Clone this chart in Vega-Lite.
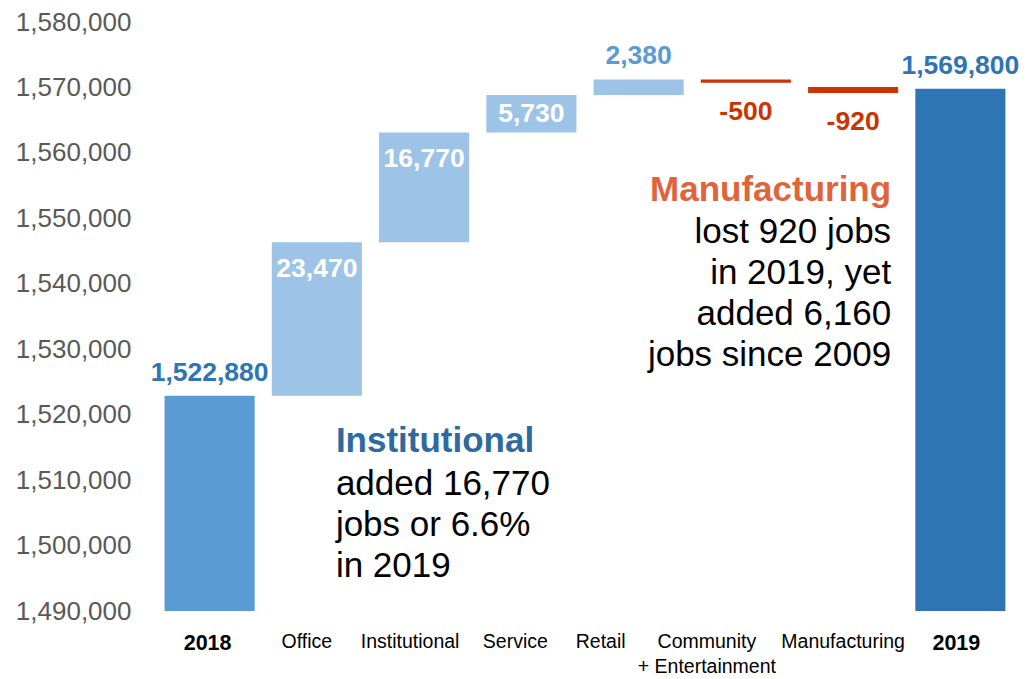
{
  "$schema": "https://vega.github.io/schema/vega-lite/v6.json",
  "autosize": "none",
  "padding": {"left": 156, "top": 22, "right": 22, "bottom": 68},
  "width": 858,
  "height": 589,
  "background": "white",
  "config": {"view": {"stroke": null}, "font": "Liberation Sans", "text": {"font": "Liberation Sans"}},
  "datasets": {
    "bars": [
      {"cat": "2018", "kind": "total2018", "start": 1490000, "end": 1522880, "label": "1,522,880"},
      {"cat": "Office", "kind": "increase", "start": 1522880, "end": 1546350, "label": "23,470"},
      {"cat": "Institutional", "kind": "increase", "start": 1546350, "end": 1563120, "label": "16,770"},
      {"cat": "Service", "kind": "increase", "start": 1563120, "end": 1568850, "label": "5,730"},
      {"cat": "Retail", "kind": "increase", "start": 1568850, "end": 1571230, "label": "2,380"},
      {"cat": "Community + Entertainment", "kind": "decrease", "start": 1571230, "end": 1570730, "label": "-500"},
      {"cat": "Manufacturing", "kind": "decrease", "start": 1570070, "end": 1569150, "label": "-920"},
      {"cat": "2019", "kind": "total2019", "start": 1490000, "end": 1569800, "label": "1,569,800"}
    ],
    "notes": [
      {"series": "Institutional", "part": "title", "cat": "Office", "value": 1514340, "text": "Institutional"},
      {"series": "Institutional", "part": "body", "cat": "Office", "value": 1507725, "text": "added 16,770\njobs or 6.6%\nin 2019"},
      {"series": "Manufacturing", "part": "title", "cat": "Manufacturing", "value": 1552695, "text": "Manufacturing"},
      {"series": "Manufacturing", "part": "body", "cat": "Manufacturing", "value": 1546230, "text": "lost 920 jobs\nin 2019, yet\nadded 6,160\njobs since 2009"}
    ]
  },
  "encoding": {
    "x": {
      "field": "cat", "type": "nominal", "sort": ["2018", "Office", "Institutional", "Service", "Retail", "Community + Entertainment", "Manufacturing", "2019"],
      "scale": {"domain": ["2018", "Office", "Institutional", "Service", "Retail", "Community + Entertainment", "Manufacturing", "2019"], "paddingInner": 0.16, "paddingOuter": 0.08},
      "axis": {
        "title": null, "domain": false, "ticks": false, "tickSize": 0, "labelAngle": 0,
        "labelPadding": 21, "labelBaseline": "top", "labelColor": "black", "labelFont": "Liberation Sans",
        "labelLineHeight": 25,
        "labelFontSize": {"condition": {"test": "datum.value == '2018' || datum.value == '2019'", "value": 21.5}, "value": 19.5},
        "labelFontWeight": {"condition": {"test": "datum.value == '2018' || datum.value == '2019'", "value": "bold"}, "value": "normal"},
        "labelOffset": {"condition": [
          {"test": "datum.value == '2018'", "value": -2},
          {"test": "datum.value == 'Office'", "value": -10},
          {"test": "datum.value == 'Institutional'", "value": -14},
          {"test": "datum.value == 'Service'", "value": -16},
          {"test": "datum.value == 'Retail'", "value": -38},
          {"test": "datum.value == 'Community + Entertainment'", "value": -39},
          {"test": "datum.value == 'Manufacturing'", "value": -10}
        ], "value": -4},
        "labelExpr": "datum.value == 'Community + Entertainment' ? ['Community', '+ Entertainment'] : datum.value"
      }
    }
  },
  "layer": [
    {
      "data": {"name": "bars"},
      "mark": {"type": "bar"},
      "encoding": {
        "y": {"field": "start", "type": "quantitative",
          "scale": {"domain": [1490000, 1580000], "nice": false, "zero": false},
          "axis": {"title": null, "values": [1490000, 1500000, 1510000, 1520000, 1530000, 1540000, 1550000, 1560000, 1570000, 1580000], "format": ",.0f", "grid": false, "domain": false, "ticks": false, "tickSize": 0, "labelPadding": 25, "labelFontSize": 26, "labelColor": "#595959", "labelFont": "Liberation Sans"}},
        "y2": {"field": "end"},
        "color": {"field": "kind", "type": "nominal", "legend": null,
          "scale": {"domain": ["total2018", "increase", "decrease", "total2019"], "range": ["#5B9BD5", "#9DC3E6", "#CC3300", "#2E75B6"]}}
      }
    },
    {
      "data": {"name": "bars"},
      "transform": [{"filter": "datum.kind == 'total2018' || datum.kind == 'total2019' || datum.cat == 'Retail'"}],
      "mark": {"type": "text", "baseline": "alphabetic", "align": "center", "dy": -15, "fontSize": 26.5, "fontWeight": "bold"},
      "encoding": {
        "y": {"field": "end", "type": "quantitative"},
        "text": {"field": "label"},
        "color": {"condition": {"test": "datum.cat == 'Retail'", "value": "#5B9BD5"}, "value": "#2E75B6"}
      }
    },
    {
      "data": {"name": "bars"},
      "transform": [{"filter": "datum.cat == 'Office' || datum.cat == 'Institutional'"}],
      "mark": {"type": "text", "baseline": "alphabetic", "align": "center", "dy": 34.5, "fontSize": 26.5, "fontWeight": "bold", "color": "white"},
      "encoding": {
        "y": {"field": "end", "type": "quantitative"},
        "text": {"field": "label"}
      }
    },
    {
      "data": {"name": "bars"},
      "transform": [{"filter": "datum.cat == 'Service'"}],
      "mark": {"type": "text", "baseline": "alphabetic", "align": "center", "dy": 27, "fontSize": 26.5, "fontWeight": "bold", "color": "white"},
      "encoding": {
        "y": {"field": "end", "type": "quantitative"},
        "text": {"field": "label"}
      }
    },
    {
      "data": {"name": "bars"},
      "transform": [{"filter": "datum.kind == 'decrease'"}],
      "mark": {"type": "text", "baseline": "alphabetic", "align": "center", "dy": 37, "fontSize": 26.5, "fontWeight": "bold", "color": "#CC3300"},
      "encoding": {
        "y": {"field": "end", "type": "quantitative"},
        "text": {"field": "label"}
      }
    },
    {
      "data": {"name": "notes"},
      "transform": [{"filter": "datum.series == 'Institutional' && datum.part == 'title'"}],
      "mark": {"type": "text", "baseline": "alphabetic", "align": "left", "dx": 19, "fontSize": 35, "fontWeight": "bold", "color": "#2F6A9F"},
      "encoding": {"y": {"field": "value", "type": "quantitative"}, "text": {"field": "text"}}
    },
    {
      "data": {"name": "notes"},
      "transform": [{"filter": "datum.series == 'Institutional' && datum.part == 'body'"}],
      "mark": {"type": "text", "baseline": "alphabetic", "align": "left", "dx": 19, "fontSize": 35, "lineBreak": "\n", "lineHeight": 41, "color": "black"},
      "encoding": {"y": {"field": "value", "type": "quantitative"}, "text": {"field": "text"}}
    },
    {
      "data": {"name": "notes"},
      "transform": [{"filter": "datum.series == 'Manufacturing' && datum.part == 'title'"}],
      "mark": {"type": "text", "baseline": "alphabetic", "align": "right", "dx": 38, "fontSize": 35, "fontWeight": "bold", "color": "#DF643C"},
      "encoding": {"y": {"field": "value", "type": "quantitative"}, "text": {"field": "text"}}
    },
    {
      "data": {"name": "notes"},
      "transform": [{"filter": "datum.series == 'Manufacturing' && datum.part == 'body'"}],
      "mark": {"type": "text", "baseline": "alphabetic", "align": "right", "dx": 38, "fontSize": 35, "lineBreak": "\n", "lineHeight": 41, "color": "black"},
      "encoding": {"y": {"field": "value", "type": "quantitative"}, "text": {"field": "text"}}
    }
  ]
}
